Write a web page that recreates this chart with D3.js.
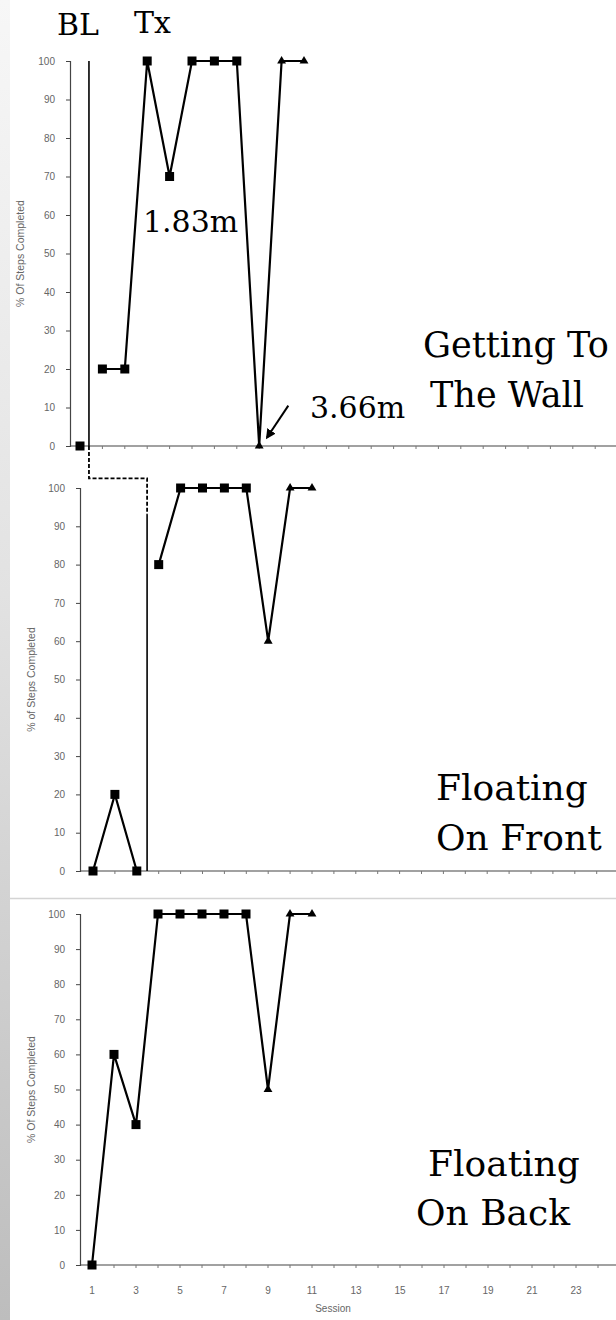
<!DOCTYPE html>
<html>
<head>
<meta charset="utf-8">
<script src="https://cdn.jsdelivr.net/npm/d3@7"></script>
<style>
body{margin:0;background:#fff;}
svg{display:block;}
.big{font-family:"DejaVu Serif","Liberation Serif",serif;fill:#000;}
.axis text{font-family:"Liberation Sans","DejaVu Sans",sans-serif;fill:#666;}
</style>
</head>
<body>
<div id="chart"></div>
<script>
// sessions and % of steps completed for each skill
var sessions=[1,2,3,4,5,6,7,8,9,10,11];
var wallPct=[0,20,20,100,70,100,100,100,0,100,100];
var frontPct=[0,20,0,80,100,100,100,100,60,100,100];
var backPct=[0,60,40,100,100,100,100,100,50,100,100];
var markerType=["sq","sq","sq","sq","sq","sq","sq","sq","tri","tri","tri"];
var panelNames=[["Getting To","The Wall"],["Floating","On Front"],["Floating","On Back"]];
var yTitles=["% Of Steps Completed","% of Steps Completed","% Of Steps Completed"];
var phaseChange=[1.4,3.47,null];   // BL -> Tx, between sessions
var yTicks=[0,10,20,30,40,50,60,70,80,90,100];
var xTicks=d3.range(1,26);
var xTickLabels=[1,3,5,7,9,11,13,15,17,19,21,23];

var W=616,H=1320;
var svg=d3.select("#chart").append("svg").attr("width",W).attr("height",H);

// grey strip on the left
var defs=svg.append("defs");
var grad=defs.append("linearGradient")
            .attr("id","strip").attr("x1",0).attr("y1",0).attr("x2",0).attr("y2",1);
grad.append("stop").attr("offset","0%").attr("stop-color","#f7f7f7");
grad.append("stop").attr("offset","45%").attr("stop-color","#e2e2e2");
grad.append("stop").attr("offset","100%").attr("stop-color","#bdbdbd");
svg.append("rect").attr("x",0).attr("y",0).attr("width",10).attr("height",H).attr("fill","url(#strip)");
svg.append("line").attr("x1",10).attr("x2",W).attr("y1",898.5).attr("y2",898.5)
   .attr("stroke","#d4d4d4").attr("stroke-width",1.5);

var panels=[
	{data:wallPct,axisX:70,x0:80,step:22.4,top:61,bottom:446,titleX:24,
	 name:{x:[423,430],y:[357,407],size:35}},
	{data:frontPct,axisX:80,x0:93,step:21.9,top:488,bottom:871,titleX:35,
	 name:{x:[436,436],y:[800,850],size:36}},
	{data:backPct,axisX:80,x0:92,step:22,top:914,bottom:1265,titleX:35,
	 name:{x:[428,416],y:[1176,1225],size:36}}
];
panels.forEach(function(p,i){
	p.x=d3.scaleLinear().domain([1,25]).range([p.x0,p.x0+24*p.step]);
	p.y=d3.scaleLinear().domain([0,100]).range([p.bottom,p.top]);
});

function drawPanel(p,i){
	var g=svg.append("g");
	// y axis
	var yAxis=d3.axisLeft(p.y).tickValues(yTicks).tickSize(4).tickPadding(11);
	var ya=g.append("g").attr("class","axis").attr("transform","translate("+p.axisX+",0)").call(yAxis);
	ya.select(".domain").attr("stroke","#444").attr("stroke-width",1.2);
	ya.selectAll(".tick line").attr("stroke","#444");
	ya.selectAll("text").style("font-size","10px");
	// x axis
	var xa=g.append("g").attr("class","axis").attr("transform","translate(0,"+p.bottom+")");
	xa.append("line").attr("x1",p.axisX).attr("x2",W).attr("stroke","#444").attr("stroke-width",1.2);
	xa.selectAll("line.tk").data(xTicks).enter().append("line").attr("class","tk")
	  .attr("x1",function(d){return p.x(d);}).attr("x2",function(d){return p.x(d);})
	  .attr("y1",0).attr("y2",3).attr("stroke","#777");
	if(i==2){
		xa.selectAll("text").data(xTickLabels).enter().append("text")
		  .attr("x",function(d){return p.x(d);}).attr("y",29)
		  .attr("text-anchor","middle").style("font-size","10px").text(function(d){return d;});
		xa.append("text").attr("x",333).attr("y",47).attr("text-anchor","middle")
		  .style("font-size","10px").text("Session");
	}
	// y title
	g.append("g").attr("class","axis")
	 .append("text")
	 .attr("transform","translate("+p.titleX+","+(p.top+p.bottom)/2+") rotate(-90)")
	 .attr("text-anchor","middle").style("font-size","10.5px").text(yTitles[i]);

	// data, split at the phase change
	var pts=sessions.map(function(s,k){return {s:s,v:p.data[k],m:markerType[k]};});
	var ph=phaseChange[i];
	var parts=ph==null?[pts]:[pts.filter(function(d){return d.s<ph;}),pts.filter(function(d){return d.s>ph;})];
	var line=d3.line().x(function(d){return p.x(d.s);}).y(function(d){return p.y(d.v);});
	parts.forEach(function(part){
		g.append("path").attr("d",line(part)).attr("fill","none")
		 .attr("stroke","#000").attr("stroke-width",2.2).attr("stroke-linejoin","miter");
	});
	g.selectAll("rect.mk").data(pts.filter(function(d){return d.m=="sq";})).enter()
	 .append("rect").attr("class","mk")
	 .attr("x",function(d){return p.x(d.s)-4.5;}).attr("y",function(d){return p.y(d.v)-4.5;})
	 .attr("width",9).attr("height",9).attr("fill","#000");
	var tri=d3.symbol().type(d3.symbolTriangle).size(34);
	g.selectAll("path.mk").data(pts.filter(function(d){return d.m=="tri";})).enter()
	 .append("path").attr("class","mk").attr("d",tri)
	 .attr("transform",function(d){return "translate("+p.x(d.s)+","+p.y(d.v)+")";})
	 .attr("fill","#000");

	// skill name, two lines
	panelNames[i].forEach(function(t,k){
		big(t,p.name.x[k],p.name.y[k],p.name.size);
	});
}

function big(txt,x,y,size){
	svg.append("text").attr("class","big").attr("x",x).attr("y",y)
	   .style("font-size",size+"px").text(txt);
}

panels.forEach(drawPanel);

// phase change lines
var p1=panels[0],p2=panels[1];
svg.append("line").attr("x1",p1.x(phaseChange[0])).attr("x2",p1.x(phaseChange[0]))
   .attr("y1",p1.y(100)).attr("y2",p1.y(0)).attr("stroke","#000").attr("stroke-width",1.6);
svg.append("path")
   .attr("d","M"+p1.x(phaseChange[0])+","+p1.y(0)+"V"+p2.y(102.5)+"H"+p2.x(phaseChange[1])+"V"+p2.y(93))
   .attr("fill","none").attr("stroke","#000").attr("stroke-width",1.8).attr("stroke-dasharray","4,2");
svg.append("line").attr("x1",p2.x(phaseChange[1])).attr("x2",p2.x(phaseChange[1]))
   .attr("y1",p2.y(93)).attr("y2",p2.y(0)).attr("stroke","#000").attr("stroke-width",1.6);

// annotations
big("BL",57,35,30);
big("Tx",134,33,30);
big("1.83m",143,232,30);
big("3.66m",310,418,30);

// arrow to the 3.66m point
defs.append("marker").attr("id","ah").attr("viewBox","0 0 10 10").attr("refX",8).attr("refY",5)
    .attr("markerWidth",5).attr("markerHeight",5).attr("orient","auto")
    .append("path").attr("d","M0,0L10,5L0,10Z").attr("fill","#000");
svg.append("line").attr("x1",p1.x(10.3)).attr("y1",p1.y(10.5)).attr("x2",p1.x(9.35)).attr("y2",p1.y(2.2))
   .attr("stroke","#000").attr("stroke-width",2).attr("marker-end","url(#ah)");
</script>
</body>
</html>
